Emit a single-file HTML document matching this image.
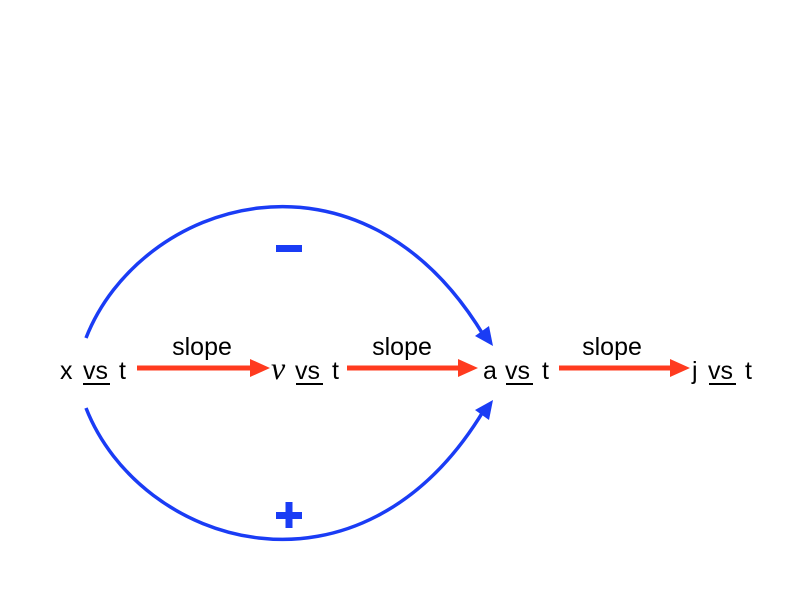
<!DOCTYPE html>
<html><head><meta charset="utf-8"><style>
html,body{margin:0;padding:0;background:#fff;}
svg{display:block;}
text{font-family:"Liberation Sans",sans-serif;font-size:25px;fill:#000;}
</style></head><body>
<svg width="800" height="600" viewBox="0 0 800 600">
<path d="M86,338 C140,200 360,130 484,336" fill="none" stroke="#1a3cf5" stroke-width="3.5"/>
<polygon points="493,346 475,336 489,326" fill="#1a3cf5"/>
<path d="M86,408 C140,546 360,616 484,410" fill="none" stroke="#1a3cf5" stroke-width="3.5"/>
<polygon points="493,400 475,410 489,420" fill="#1a3cf5"/>
<rect x="276" y="245" width="26" height="7" fill="#1a3cf5"/>
<rect x="276" y="512" width="26" height="7" fill="#1a3cf5"/>
<rect x="285.5" y="502" width="7" height="26" fill="#1a3cf5"/>
<g fill="#ff3b1f">
<rect x="137" y="365.5" width="116" height="5"/>
<polygon points="250,359 270,368 250,377"/>
<rect x="347" y="365.5" width="114" height="5"/>
<polygon points="458,359 478,368 458,377"/>
<rect x="559" y="365.5" width="114" height="5"/>
<polygon points="670,359 690,368 670,377"/>
</g>
<text x="202" y="355" text-anchor="middle">slope</text>
<text x="402" y="355" text-anchor="middle">slope</text>
<text x="612" y="355" text-anchor="middle">slope</text>
<text x="60" y="379">x</text><text x="83" y="379">vs</text><text x="119" y="379">t</text>
<rect x="83" y="383" width="27" height="2" fill="#000"/>
<text x="271" y="379" style="font-family:'Liberation Serif',serif;font-style:italic;font-size:32px">v</text>
<text x="295" y="379">vs</text><text x="332" y="379">t</text>
<rect x="296" y="383" width="27" height="2" fill="#000"/>
<text x="483" y="379">a</text><text x="505" y="379">vs</text><text x="542" y="379">t</text>
<rect x="506" y="383" width="27" height="2" fill="#000"/>
<text x="692" y="379">j</text><text x="708" y="379">vs</text><text x="745" y="379">t</text>
<rect x="709" y="383" width="27" height="2" fill="#000"/>
</svg>
</body></html>
